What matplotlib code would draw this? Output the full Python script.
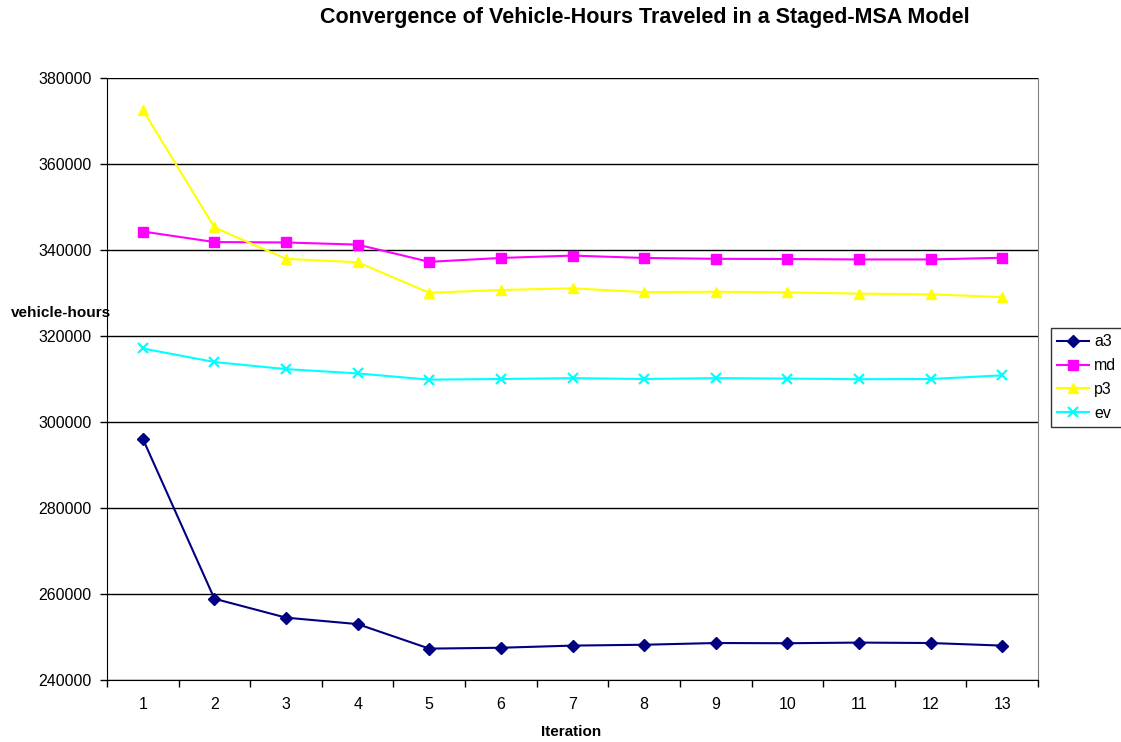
import matplotlib
matplotlib.use('Agg')
import matplotlib.pyplot as plt
import numpy as np
from matplotlib import rc

FONT_SIZE = 11.5
rc('font', family=['Liberation Sans', 'DejaVu Sans'], size=FONT_SIZE)

iterations = list(range(1, 14))
a3 = [296100, 258900, 254500, 253000, 247300, 247500, 248000,
      248200, 248600, 248550, 248700, 248600, 248000]
md = [344300, 341850, 341750, 341250, 337250, 338150, 338700,
      338150, 337950, 337900, 337800, 337800, 338200]
p3 = [372600, 345250, 337950, 337150, 330050, 330700, 331100,
      330200, 330300, 330150, 329850, 329700, 329050]
ev = [317100, 313950, 312300, 311300, 309850, 310000, 310200,
      310000, 310200, 310100, 309950, 310000, 310850]
series_names = ['a3', 'md', 'p3', 'ev']

fig = plt.figure(figsize=(11.21, 7.42), dpi=100)
ax = fig.add_axes([107/1121, 1-680/742, (1038-107)/1121, (680-78)/742])

ax.plot(iterations, a3, '-', color='#000080', marker='D', markersize=6.5, lw=1.5, label=series_names[0])
ax.plot(iterations, md, '-', color='#FF00FF', marker='s', markersize=7, lw=1.5, label=series_names[1])
ax.plot(iterations, p3, '-', color='#FFFF00', marker='^', markersize=7.5, lw=1.5, label=series_names[2])
ax.plot(iterations, ev, '-', color='#00FFFF', marker='x', markersize=7, mew=1.6, lw=1.5, label=series_names[3])

ax.set_xlim(0.5, 13.5)
ax.set_ylim(240000, 380000)
ax.set_yticks(np.arange(240000, 380001, 20000))
ax.yaxis.grid(True, color='black', lw=1.0)
ax.set_axisbelow(True)

# tick marks between categories, labels centred on categories
ax.set_xticks(np.arange(0.5, 13.6, 1.0))
ax.set_xticklabels([])
ax.set_xticks(iterations, minor=True)
ax.set_xticklabels([str(i) for i in iterations], minor=True)
ax.tick_params(axis='x', which='minor', length=0, pad=12, labelsize=FONT_SIZE)
ax.tick_params(axis='x', which='major', length=5, width=1, direction='out')
ax.tick_params(axis='y', length=5, width=1, direction='out', pad=6, labelsize=FONT_SIZE)

ax.spines['top'].set_visible(False)
ax.spines['right'].set_color('#808080')
ax.spines['left'].set_color('black')
ax.spines['bottom'].set_color('black')

fig.text(645/1121, 1-18/742, 'Convergence of Vehicle-Hours Traveled in a Staged-MSA Model',
         ha='center', va='center', fontsize=15.5, fontweight='bold')
fig.text(571/1121, 1-732/742, 'Iteration', ha='center', va='center', fontsize=11, fontweight='bold')
fig.text(61/1121, 1-313/742, 'vehicle-hours', ha='center', va='center', fontsize=11, fontweight='bold')

leg = fig.legend(loc='upper left', bbox_to_anchor=(1051/1121, 1-328/742), frameon=True,
                 fancybox=False, edgecolor='black', fontsize=FONT_SIZE, handlelength=2.0,
                 borderpad=0.4, labelspacing=0.55, handletextpad=0.3, borderaxespad=0)
leg.get_frame().set_linewidth(1.0)

plt.savefig('out.png', dpi=100)
